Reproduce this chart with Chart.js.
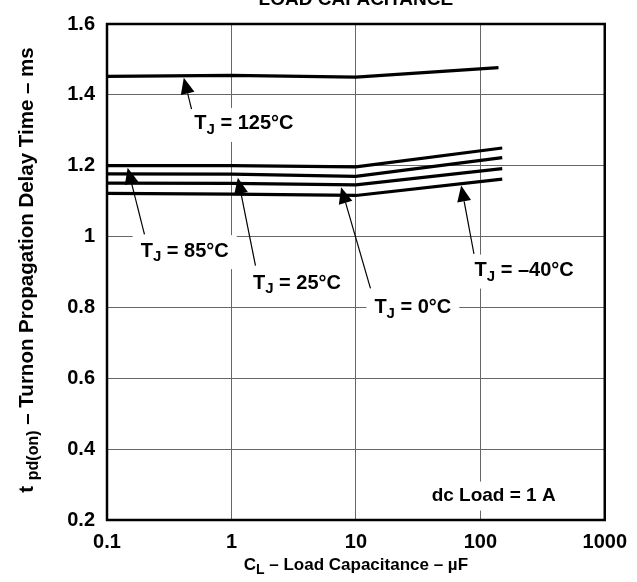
<!DOCTYPE html>
<html>
<head>
<meta charset="utf-8">
<script src="https://cdn.jsdelivr.net/npm/chart.js@4.4.0/dist/chart.umd.min.js"></script>
<style>
  html, body { margin: 0; padding: 0; background: #fff; }
  #wrap { width: 637px; height: 582px; }
</style>
</head>
<body>
<div id="wrap"><canvas id="delayChart" width="637" height="582"></canvas></div>
<script>
// turn-on delay vs load capacitance, one curve per junction temperature
const capHot = [0.1, 1, 10, 140];
const delay125 = [1.452, 1.455, 1.450, 1.477];

const capStd = [0.1, 1, 10, 150];
const delay85 = [1.200, 1.200, 1.197, 1.250];
const delay25 = [1.177, 1.176, 1.170, 1.223];
const delay0 = [1.151, 1.150, 1.146, 1.192];
const delayM40 = [1.122, 1.120, 1.116, 1.162];

const xTicks = [0.1, 1, 10, 100, 1000];
const xTickLabels = ['0.1', '1', '10', '100', '1000'];
const yTicks = [0.2, 0.4, 0.6, 0.8, 1.0, 1.2, 1.4, 1.6];
const yTickLabels = ['0.2', '0.4', '0.6', '0.8', '1', '1.2', '1.4', '1.6'];

// curve callouts: label centre, arrow tail and arrow tip, all in data units
const callouts = [
  { temp: '125°C', at: [1.26, 1.318], tail: [0.478, 1.36], tip: [0.414, 1.448] },
  { temp: '85°C', at: [0.421, 0.959], tail: [0.20, 1.006], tip: [0.1466, 1.194] },
  { temp: '25°C', at: [3.36, 0.868], tail: [1.56, 0.918], tip: [1.126, 1.166] },
  { temp: '0°C', at: [28.7, 0.799], tail: [13.1, 0.854], tip: [7.61, 1.139] },
  { temp: '–40°C', at: [225, 0.904], tail: [88.9, 0.951], tip: [70.2, 1.144] }
];

const FAMILY = '"Liberation Sans", Arial, sans-serif';
const font = px => 'bold ' + px + 'px ' + FAMILY;

function toPoints(xs, ys) {
  return xs.map((x, i) => ({ x: x, y: ys[i] }));
}

function curve(xs, ys) {
  return {
    data: toPoints(xs, ys),
    borderColor: '#000',
    borderWidth: 3.2,
    pointRadius: 0,
    tension: 0,
    fill: false
  };
}

// "main" + subscript + "rest", centred on cx
function drawSubText(ctx, cx, cy, main, sub, rest, size, subSize, box) {
  ctx.font = font(size);
  const w1 = ctx.measureText(main).width;
  const w3 = ctx.measureText(rest).width;
  ctx.font = font(subSize);
  const w2 = ctx.measureText(sub).width;
  const total = w1 + w2 + w3;
  let x = cx - total / 2;
  if (box) {
    ctx.fillStyle = '#fff';
    ctx.fillRect(x - 8, cy - 16, total + 16, 34);
  }
  ctx.fillStyle = '#000';
  ctx.textBaseline = 'middle';
  ctx.textAlign = 'left';
  ctx.font = font(size);
  ctx.fillText(main, x, cy);
  x += w1;
  ctx.font = font(subSize);
  ctx.fillText(sub, x, cy + size * 0.3);
  x += w2;
  ctx.font = font(size);
  ctx.fillText(rest, x, cy);
}

function drawArrow(ctx, x0, y0, x1, y1) {
  const ang = Math.atan2(y1 - y0, x1 - x0);
  const head = 16, half = 7;
  const bx = x1 - head * Math.cos(ang);
  const by = y1 - head * Math.sin(ang);
  ctx.strokeStyle = '#000';
  ctx.lineWidth = 1.2;
  ctx.beginPath();
  ctx.moveTo(x0, y0);
  ctx.lineTo(bx, by);
  ctx.stroke();
  ctx.fillStyle = '#000';
  ctx.beginPath();
  ctx.moveTo(x1, y1);
  ctx.lineTo(bx + half * Math.sin(ang), by - half * Math.cos(ang));
  ctx.lineTo(bx - half * Math.sin(ang), by + half * Math.cos(ang));
  ctx.closePath();
  ctx.fill();
}

const decorations = {
  id: 'decorations',
  afterDatasetsDraw(chart) {
    const ctx = chart.ctx;
    const xs = chart.scales.x, ys = chart.scales.y;
    const area = chart.chartArea;
    ctx.save();

    callouts.forEach(c => {
      drawSubText(ctx, xs.getPixelForValue(c.at[0]), ys.getPixelForValue(c.at[1]),
        'T', 'J', ' = ' + c.temp, 20, 15, true);
    });
    callouts.forEach(c => {
      drawArrow(ctx,
        xs.getPixelForValue(c.tail[0]), ys.getPixelForValue(c.tail[1]),
        xs.getPixelForValue(c.tip[0]), ys.getPixelForValue(c.tip[1]));
    });

    // test condition note
    ctx.font = font(19);
    const note = 'dc Load = 1 A';
    const nw = ctx.measureText(note).width;
    const nx = xs.getPixelForValue(128), ny = ys.getPixelForValue(0.269);
    ctx.fillStyle = '#fff';
    ctx.fillRect(nx - nw / 2 - 8, ny - 14, nw + 16, 29);
    ctx.fillStyle = '#000';
    ctx.textAlign = 'center';
    ctx.textBaseline = 'middle';
    ctx.fillText(note, nx, ny);

    // plot frame
    ctx.strokeStyle = '#000';
    ctx.lineWidth = 2.5;
    ctx.strokeRect(area.left, area.top, area.right - area.left, area.bottom - area.top);

    // chart title, clipped by the top edge
    ctx.font = font(19);
    ctx.textAlign = 'center';
    ctx.textBaseline = 'alphabetic';
    ctx.fillText('LOAD CAPACITANCE', (area.left + area.right) / 2, 5);

    // axis titles
    drawSubText(ctx, (area.left + area.right) / 2, 565, 'C', 'L', ' – Load Capacitance – µF', 17, 14, false);
    ctx.translate(27, (area.top + area.bottom) / 2 - 2);
    ctx.rotate(-Math.PI / 2);
    drawSubText(ctx, 0, 0, 't ', 'pd(on)', ' – Turnon Propagation Delay Time – ms', 20.5, 16, false);

    ctx.restore();
  }
};

function initChart() {
  const ctx = document.getElementById('delayChart').getContext('2d');
  new Chart(ctx, {
    type: 'line',
    data: {
      datasets: [
        curve(capHot, delay125),
        curve(capStd, delay85),
        curve(capStd, delay25),
        curve(capStd, delay0),
        curve(capStd, delayM40)
      ]
    },
    options: {
      responsive: false,
      animation: false,
      devicePixelRatio: 1,
      layout: { padding: { top: 13, right: 24, left: 0, bottom: 0 } },
      plugins: {
        legend: { display: false },
        tooltip: { enabled: false },
        title: { display: false }
      },
      scales: {
        x: {
          type: 'logarithmic',
          min: 0.1,
          max: 1000,
          afterBuildTicks: s => { s.ticks = xTicks.map(v => ({ value: v })); },
          afterFit: s => { s.height = 62; },
          ticks: {
            autoSkip: false,
            maxRotation: 0,
            padding: 10,
            color: '#000',
            font: { family: FAMILY, size: 20, weight: 'bold' },
            callback: v => xTickLabels[xTicks.indexOf(v)]
          },
          grid: { color: '#666', lineWidth: 1, drawTicks: false },
          border: { display: false }
        },
        y: {
          min: 0.2,
          max: 1.6,
          afterBuildTicks: s => { s.ticks = yTicks.map(v => ({ value: v })); },
          afterFit: s => { s.width = 107; },
          ticks: {
            padding: 12,
            color: '#000',
            font: { family: FAMILY, size: 20, weight: 'bold' },
            callback: (v, i) => yTickLabels[i]
          },
          grid: { color: '#666', lineWidth: 1, drawTicks: false },
          border: { display: false }
        }
      }
    },
    plugins: [decorations]
  });
}

document.addEventListener('DOMContentLoaded', initChart);
</script>
</body>
</html>
